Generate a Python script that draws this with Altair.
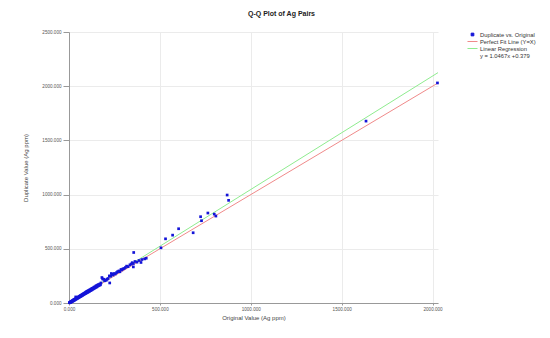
import altair as alt
import pandas as pd

# Duplicate vs original pairs (Ag ppm)
orig_vals = [2, 4, 5, 6, 8, 9, 10, 12, 13, 14, 15, 16, 18, 19, 20, 22, 23, 24, 26, 27,
             28, 30, 31, 33, 34, 35, 37, 38, 40, 41, 43, 44, 46, 47, 49, 50, 52, 53, 55, 56,
             58, 59, 61, 62, 64, 65, 67, 68, 70, 72, 73, 75, 77, 78, 80, 82, 84, 85, 87, 89,
             90, 92, 94, 95, 97, 99, 100, 102, 104, 106, 108, 110, 112, 114, 116, 118, 120, 122, 124, 126,
             128, 130, 133, 135, 138, 140, 143, 145, 148, 150, 153, 155, 158, 160, 163, 166, 170, 173, 176, 181,
             185, 191, 196, 200, 205, 210, 215, 222, 224, 229, 233, 238, 243, 249, 255, 262, 268, 275, 280, 286,
             291, 297, 303, 310, 317, 325, 335, 342, 348, 354, 354, 356, 363, 374, 385, 396, 401, 416, 425,
             506, 531, 570, 603, 683, 724, 729, 764, 799, 808, 870, 878, 1634, 2027]
dup_vals = [3, 2, 6, 5, 7, 11, 9, 10, 15, 12, 17, 14, 16, 22, 18, 21, 25, 20, 31, 24,
            29, 27, 34, 30, 38, 33, 56, 36, 42, 38, 47, 41, 49, 44, 53, 47, 55, 51, 60, 52,
            61, 57, 66, 59, 69, 62, 71, 65, 75, 70, 78, 72, 82, 76, 86, 79, 89, 83, 93, 86,
            96, 90, 101, 92, 104, 96, 108, 99, 111, 102, 116, 106, 119, 110, 122, 114, 127, 118, 131, 122,
            135, 127, 140, 131, 146, 136, 150, 141, 157, 146, 162, 150, 166, 158, 171, 161, 176, 168, 185, 235,
            222, 219, 205, 212, 210, 220, 226, 250, 185, 247, 272, 265, 258, 272, 268, 281, 290, 296, 288, 309,
            305, 315, 318, 327, 340, 335, 352, 360, 372, 364, 333, 466, 383, 377, 392, 374, 401, 407, 413,
            509, 592, 626, 685, 648, 796, 759, 830, 820, 802, 996, 947, 1678, 2030]

# Reference lines (endpoints)
line_x = [0, 2030]
perfect_y = [0, 2030]
reg_y = [0.379, 2125.2]

series_names = ["Duplicate vs. Original", "Perfect Fit Line (Y=X)",
                "Linear Regression", "y = 1.0467x +0.379"]
series_colors = ["#1414d8", "#f08a8a", "#8fec8f", "rgba(255,255,255,0)"]
sq = "M-0.45,-0.45H0.45V0.45H-0.45Z"
ln = "M-1.67,0H1.67"
series_shapes = [sq, ln, ln, ln]

pts = pd.DataFrame({"x": orig_vals, "y": dup_vals, "series": series_names[0]})
lines = pd.concat([
    pd.DataFrame({"x": line_x, "y": perfect_y, "series": series_names[1]}),
    pd.DataFrame({"x": line_x, "y": reg_y, "series": series_names[2]}),
])

color_scale = alt.Scale(domain=series_names, range=series_colors)
shape_scale = alt.Scale(domain=series_names, range=series_shapes)

xs = alt.X("x:Q", scale=alt.Scale(domain=[0, 2030], nice=False, zero=True),
           axis=alt.Axis(title="Original Value (Ag ppm)", values=[0, 500, 1000, 1500, 2000],
                         format=".3f", titlePadding=4, tickSize=2, labelPadding=1,
                         labelFlush=False))
ys = alt.Y("y:Q", scale=alt.Scale(domain=[0, 2500], nice=False),
           axis=alt.Axis(title="Duplicate Value (Ag ppm)", values=[0, 500, 1000, 1500, 2000, 2500],
                         format=".3f", titlePadding=13, tickSize=6, labelPadding=2,
                         labelFlush=False))

legend = alt.Legend(
    title=None, orient="none", legendX=400, legendY=-1, padding=0,
    symbolSize=36, rowPadding=0, labelOffset=4, labelFontSize=5.8,
    labelColor="#333", labelFont="Liberation Sans",
    symbolStrokeWidth=1,
)

line_layer = alt.Chart(lines).mark_line(strokeWidth=1).encode(
    x=xs, y=ys,
    color=alt.Color("series:N", scale=color_scale, legend=legend),
    detail="series:N",
)

pt_layer = alt.Chart(pts).mark_point(filled=True, opacity=1, size=36, strokeWidth=0).encode(
    x=xs, y=ys,
    color=alt.Color("series:N", scale=color_scale, legend=legend),
    shape=alt.Shape("series:N", scale=shape_scale, legend=legend),
)

chart = alt.layer(line_layer, pt_layer).properties(
    width=369, height=271,
    padding={"left": 69, "top": 32, "right": 112, "bottom": 35},
    autosize="none",
    title=alt.TitleParams("Q-Q Plot of Ag Pairs", fontSize=7, fontWeight="bold",
                          font="Liberation Sans", color="#222", anchor="middle",
                          dx=28, offset=12),
).configure_view(stroke=None).configure_axis(
    labelFontSize=4.6, labelFont="Liberation Sans", labelColor="#555",
    titleFontSize=6, titleFont="Liberation Sans", titleColor="#444", titleFontWeight="normal",
    gridColor="#ebebeb", gridWidth=1, domainColor="#999", tickColor="#999",
).configure_legend(
    symbolType="stroke",
)

chart.save("out.html", embed_options={"renderer": "svg", "actions": False})
